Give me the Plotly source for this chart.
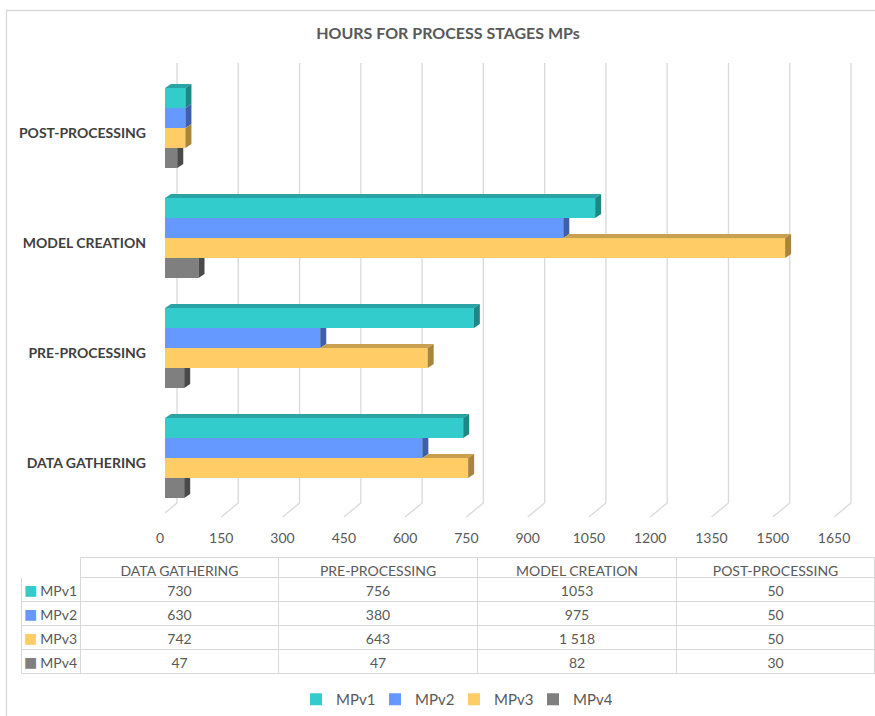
import plotly.graph_objects as go

# ---- data -------------------------------------------------------------
stages = ["DATA GATHERING", "PRE-PROCESSING", "MODEL CREATION", "POST-PROCESSING"]
series_names = ["MPv1", "MPv2", "MPv3", "MPv4"]
mpv1 = [730, 756, 1053, 50]
mpv2 = [630, 380, 975, 50]
mpv3 = [742, 643, 1518, 50]
mpv4 = [47, 47, 82, 30]
x_ticks = [0, 150, 300, 450, 600, 750, 900, 1050, 1200, 1350, 1500, 1650]

series_values = [mpv1, mpv2, mpv3, mpv4]

# ---- styling ----------------------------------------------------------
FONT = "Lato"
TXT = "#595959"
GRID = "#D9D9D9"
front_colors = ["#33CCCC", "#6699FF", "#FFCC66", "#7F7F7F"]
top_colors = ["#29A3A3", "#4F78CC", "#C9A050", "#5F5F5F"]
side_colors = ["#1F8585", "#3F5FA8", "#A8843E", "#4A4A4A"]

W, H = 875, 716
PX_PER_UNIT = 0.4085          # horizontal scale of the value axis
PX_PER_CAT = 110.0            # vertical distance between stage groups
X0_PX, X1_PX = 165, 860       # value axis pixel span
Y_TOP_PX, Y_BOT_PX = 63, 517  # plot area pixel span
GROUP0_PX = 458               # pixel row of the first stage's centre

x_range = [0, (X1_PX - X0_PX) / PX_PER_UNIT]
y_range = [(GROUP0_PX - Y_BOT_PX) / PX_PER_CAT, (GROUP0_PX - Y_TOP_PX) / PX_PER_CAT]

bar_h = 20 / PX_PER_CAT
offsets = [1.5 * bar_h, 0.5 * bar_h, -0.5 * bar_h, -1.5 * bar_h]
ddx = 6 / PX_PER_UNIT         # bar depth, horizontal
ddy = 4 / PX_PER_CAT          # bar depth, vertical
wall_dx = 12 / PX_PER_UNIT    # back wall offset of the grid
front_dx = -5 / PX_PER_UNIT   # front floor edge offset
wall_floor_y = (GROUP0_PX - 503) / PX_PER_CAT

fig = go.Figure()

# front faces of the bars
for j, (name, vals) in enumerate(zip(series_names, series_values)):
    fig.add_trace(go.Bar(
        name=name,
        orientation="h",
        x=vals,
        y=[i + offsets[j] for i in range(len(stages))],
        width=bar_h,
        base=0,
        marker=dict(color=front_colors[j], line=dict(width=0)),
        hovertemplate=name + ": %{x}<extra></extra>",
    ))


def path(points):
    return "M " + " L ".join(f"{x},{y}" for x, y in points) + " Z"


shapes = []

# grid on the back wall plus the floor lines towards the tick labels
for v in x_ticks:
    xb = v + wall_dx
    shapes.append(dict(type="line", xref="x", yref="y", x0=xb, x1=xb,
                       y0=wall_floor_y, y1=y_range[1], layer="below",
                       line=dict(color=GRID, width=1.3)))
    shapes.append(dict(type="line", xref="x", yref="y", x0=xb, x1=v + front_dx,
                       y0=wall_floor_y, y1=y_range[0], layer="below",
                       line=dict(color=GRID, width=1.3)))

# top and side faces giving the bars their depth
for i in range(len(stages)):
    for j, vals in enumerate(series_values):
        v = vals[i]
        yc = i + offsets[j]
        ytop, ybot = yc + bar_h / 2, yc - bar_h / 2
        above = series_values[j - 1][i] if j > 0 else None
        # top face (only the part not hidden by the bar above)
        xa = 0 if above is None else above
        if above is None or v > above:
            shapes.append(dict(type="path", xref="x", yref="y", layer="above",
                               path=path([(xa, ytop), (v, ytop), (v + ddx, ytop + ddy),
                                          (xa + ddx, ytop + ddy)]),
                               fillcolor=top_colors[j], line=dict(width=0)))
        # side face
        if above is None or v >= above:
            pts = [(v, ybot), (v, ytop), (v + ddx, ytop + ddy), (v + ddx, ybot + ddy)]
        else:
            xc = min(above, v + ddx)
            y_end = ytop + max(0.0, v + ddx - above) / ddx * ddy
            pts = [(v, ybot), (v, ytop), (xc, ytop), (v + ddx, y_end), (v + ddx, ybot + ddy)]
        shapes.append(dict(type="path", xref="x", yref="y", layer="above",
                           path=path(pts), fillcolor=side_colors[j], line=dict(width=0)))

# chart frame
shapes.append(dict(type="rect", xref="paper", yref="paper", x0=6.5 / W, x1=1.02,
                   y0=-0.02, y1=1 - 10.5 / H, layer="below",
                   line=dict(color=GRID, width=1.3), fillcolor="rgba(0,0,0,0)"))


# ---- data table -------------------------------------------------------
TABLE_TOP_PX = 557.5
HEADER_H, ROW_H = 20, 24
TABLE_X0_PX, TABLE_X1_PX = 21.5, 874.5


def fmt(name, v):
    if v >= 1000 and name == "MPv3":
        return f"{v:,}".replace(",", " ")
    return str(v)


NBSP = "\u00a0"
first_col = [NBSP * 3 + n for n in series_names]
table_cols = [first_col] + [
    [fmt(n, series_values[j][k]) for j, n in enumerate(series_names)]
    for k in range(len(stages))
]

fig.add_trace(go.Table(
    domain=dict(x=[TABLE_X0_PX / W, TABLE_X1_PX / W], y=[1 - 690 / H, 1 - TABLE_TOP_PX / H]),
    columnwidth=[59, 198, 199, 199, 198],
    header=dict(values=[""] + stages, height=HEADER_H,
                fill=dict(color="white"),
                line=dict(color=["white"] + [GRID] * 4, width=1.3),
                align="center", font=dict(family=FONT, size=14, color=TXT)),
    cells=dict(values=table_cols, height=ROW_H,
               fill=dict(color="white"),
               line=dict(color=GRID, width=1.3),
               align=["left", "center", "center", "center", "center"],
               font=dict(family=FONT, size=14, color=TXT)),
))

# colour keys in the table's first column
annotations = []
for j, c in enumerate(front_colors):
    yc_px = TABLE_TOP_PX + HEADER_H + ROW_H * (j + 0.5)
    annotations.append(dict(text="■", xref="paper", yref="paper",
                            x=30.5 / W, y=1 - yc_px / H, xanchor="center", yanchor="middle",
                            showarrow=False, font=dict(family="DejaVu Sans", size=14, color=c)))

fig.update_layout(
    width=W, height=H,
    margin=dict(l=0, r=0, t=0, b=0),
    paper_bgcolor="white", plot_bgcolor="white",
    barmode="overlay",
    font=dict(family=FONT, color=TXT),
    title=dict(text="<b>HOURS FOR PROCESS STAGES MPs</b>", x=448 / W, xanchor="center",
               y=1 - 33 / H, yanchor="middle", font=dict(family=FONT, size=16, color=TXT)),
    xaxis=dict(domain=[X0_PX / W, X1_PX / W], range=x_range, showgrid=False,
               zeroline=False, showline=False, tickvals=x_ticks, ticks="",
               automargin=False, ticklabelshift=-5, ticklabelstandoff=11,
               tickfont=dict(family=FONT, size=14, color=TXT)),
    yaxis=dict(domain=[1 - Y_BOT_PX / H, 1 - Y_TOP_PX / H], range=y_range,
               showgrid=False, zeroline=False, showline=False, automargin=False,
               tickvals=list(range(len(stages))), ticktext=stages, ticks="",
               ticklabelshift=5, ticklabelstandoff=18,
               tickfont=dict(family=FONT, size=14, color="#404040", weight="bold")),
    legend=dict(orientation="h", x=454 / W, xanchor="center", y=0, yanchor="bottom",
                font=dict(family=FONT, size=15, color=TXT), itemwidth=30,
                entrywidth=34, entrywidthmode="pixels", traceorder="normal"),
    annotations=annotations,
    shapes=shapes,
)

fig.write_html("out.html")
